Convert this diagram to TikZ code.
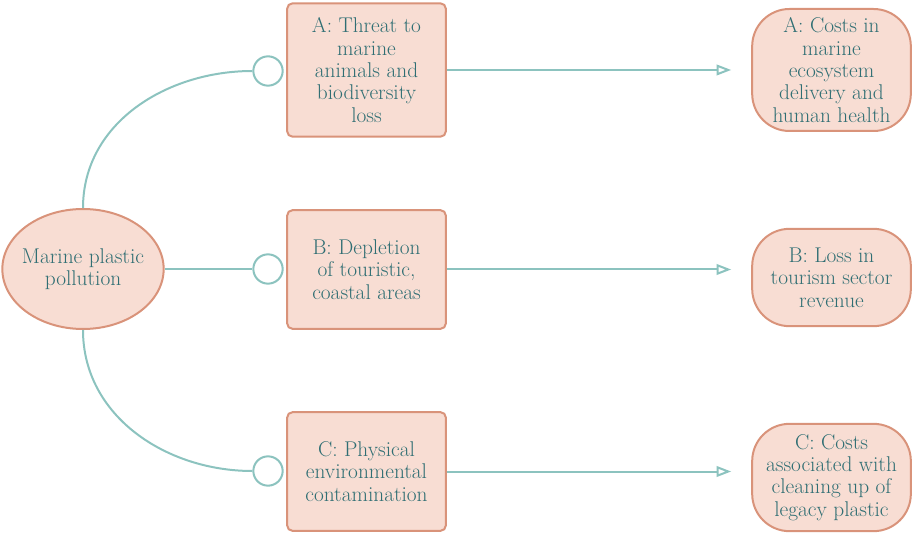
\documentclass[tikz,border=0pt]{standalone}
\usepackage{tikz}
\usetikzlibrary{arrows.meta,shapes.geometric,positioning}
\definecolor{boxfill}{HTML}{F8DDD3}
\definecolor{boxline}{HTML}{D9937A}
\definecolor{textcol}{HTML}{2F6E73}
\definecolor{linkcol}{HTML}{8CC3BF}
\tikzset{
    %Define standard arrow tip
    >={Triangle[open,length=11pt,width=8pt,fill=white]},
    %Define style for boxes
    source/.style={
           ellipse,
           draw=boxline, line width=1.5pt,
           fill=boxfill,
           minimum width=121pt,
           minimum height=90pt,
           inner xsep=-9pt,
           inner ysep=0pt,
           text=textcol,
           font=\fontsize{16}{16.8}\selectfont,
           align=center,
           },
    impact/.style={
           rectangle,
           rounded corners=4pt,
           draw=boxline, line width=1.5pt,
           fill=boxfill,
           minimum width=119pt,
           minimum height=89pt,
           inner sep=0pt,
           text=textcol,
           font=\fontsize{16}{16.8}\selectfont,
           align=center,
           },
    cost/.style={
           rectangle,
           rounded corners=28pt,
           draw=boxline, line width=1.5pt,
           fill=boxfill,
           minimum width=119pt,
           inner sep=0pt,
           text=textcol,
           font=\fontsize{16}{16.8}\selectfont,
           align=center,
           },
    joint/.style={
           circle,
           draw=linkcol, line width=1.5pt,
           fill=white,
           minimum size=22pt,
           inner sep=0pt,
           },
    % Define arrow style
    link/.style={
           draw=linkcol,
           line width=1.5pt,
           },
}
\begin{document}
\begin{tikzpicture}[x=0.75pt,y=-0.75pt]
\useasboundingbox (0,0) rectangle (912,534);
% source
\node[source] (P) at (83,269) {Marine plastic\\pollution};
% impacts
\node[impact, minimum height=100pt] (IA) at (366.5,70) {A: Threat to\\marine\\animals and\\biodiversity\\loss};
\node[impact] (IB) at (366.5,269.5) {B: Depletion\\of touristic,\\coastal areas};
\node[impact] (IC) at (366.5,471.5) {C: Physical\\environmental\\contamination};
% joints
\node[joint] (JA) at (268,71) {};
\node[joint] (JB) at (268,269) {};
\node[joint] (JC) at (268,471) {};
% costs
\node[cost, minimum height=91.5pt] (CA) at (831.5,70) {A: Costs in\\marine\\ecosystem\\delivery and\\human health};
\node[cost, minimum height=73pt] (CB) at (831.5,277.5) {B: Loss in\\tourism sector\\revenue};
\node[cost, minimum height=80.5pt] (CC) at (831.5,477.5) {C: Costs\\associated with\\cleaning up of\\legacy plastic};
% links
\path[link]
    (P.north) edge[out=90,in=180] (JA.west)
    (P.east) edge (JB.west)
    (P.south) edge[out=-90,in=180] (JC.west);
\draw[link,->,shorten >=15pt] (IA) -- (IA -| CA.west);
\draw[link,->,shorten >=15pt] (IB) -- (IB -| CB.west);
\draw[link,->,shorten >=15pt] (IC) -- (IC -| CC.west);
\end{tikzpicture}
\end{document}
